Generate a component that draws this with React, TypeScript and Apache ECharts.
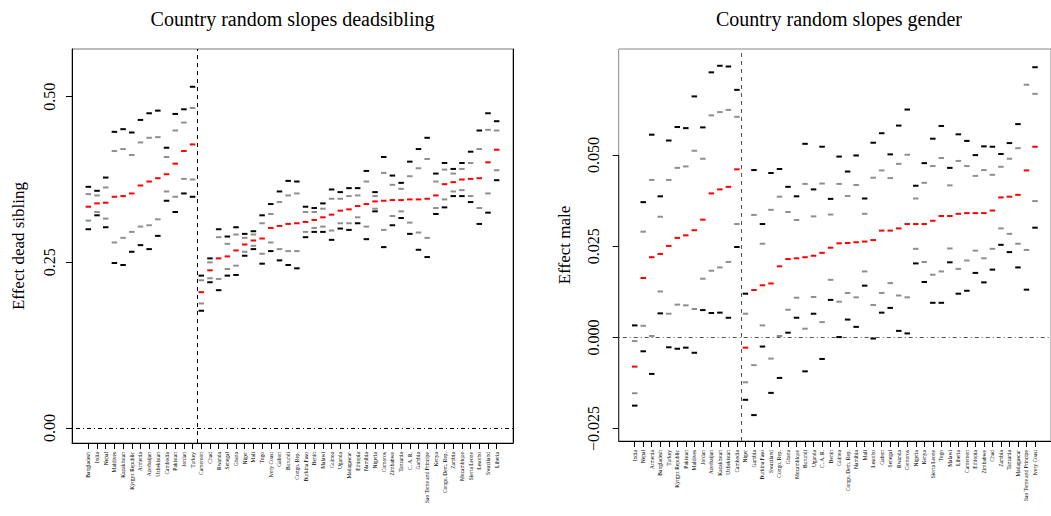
import React, { useEffect, useRef } from "react";
import * as echarts from "echarts";

// ---------- Left panel: dead sibling ----------
const deadCountries = [
  "Bangladesh", "India", "Nepal", "Maldives", "Kazakhstan", "Kyrgyz Republic", "Armenia", "Azerbaijan",
  "Uzbekistan", "Cambodia", "Pakistan", "Jordan", "Turkey", "Cameroon", "Chad", "Rwanda", "Senegal",
  "Ghana", "Niger", "Mali", "Togo", "Ivory Coast", "Gabon", "Burundi", "Congo, Rep.", "Burkina Faso",
  "Benin", "Malawi", "Guinea", "Uganda", "Madagascar", "Ethiopia", "Namibia", "Nigeria", "Comoros",
  "Zimbabwe", "Tanzania", "C. A. R.", "Gambia", "Sao Tome and Principe", "Kenya", "Congo, Dem. Rep.",
  "Zambia", "Mozambique", "Sierra Leone", "Lesotho", "Swaziland", "Liberia",
];
const deadHi95 = [
  0.364, 0.358, 0.378, 0.447, 0.451, 0.446, 0.465, 0.475, 0.479, 0.423, 0.474, 0.481, 0.515,
  0.230, 0.256, 0.300, 0.289, 0.303, 0.293, 0.297, 0.321, 0.338, 0.357, 0.373, 0.372, 0.334,
  0.332, 0.339, 0.360, 0.356, 0.362, 0.362, 0.388, 0.356, 0.409, 0.381, 0.370, 0.402, 0.421,
  0.438, 0.384, 0.400, 0.391, 0.400, 0.417, 0.449, 0.475, 0.463,
];
const deadHi80 = [
  0.353, 0.351, 0.363, 0.418, 0.421, 0.412, 0.431, 0.438, 0.439, 0.409, 0.449, 0.461, 0.483,
  0.223, 0.250, 0.288, 0.278, 0.292, 0.287, 0.292, 0.309, 0.323, 0.341, 0.351, 0.354, 0.326,
  0.326, 0.331, 0.346, 0.346, 0.350, 0.351, 0.372, 0.350, 0.385, 0.367, 0.361, 0.380, 0.392,
  0.406, 0.372, 0.390, 0.384, 0.391, 0.400, 0.421, 0.450, 0.449,
];
const deadEst = [
  0.334, 0.339, 0.340, 0.349, 0.350, 0.354, 0.366, 0.372, 0.377, 0.383, 0.399, 0.418, 0.428,
  0.205, 0.238, 0.256, 0.259, 0.268, 0.277, 0.283, 0.286, 0.302, 0.305, 0.308, 0.309, 0.311,
  0.314, 0.318, 0.322, 0.328, 0.330, 0.335, 0.338, 0.342, 0.343, 0.344, 0.344, 0.345, 0.345,
  0.346, 0.351, 0.368, 0.371, 0.375, 0.376, 0.377, 0.401, 0.420,
];
const deadLo80 = [
  0.313, 0.326, 0.316, 0.280, 0.287, 0.296, 0.304, 0.306, 0.315, 0.357, 0.349, 0.376, 0.375,
  0.188, 0.226, 0.225, 0.240, 0.245, 0.266, 0.275, 0.263, 0.280, 0.270, 0.267, 0.267, 0.296,
  0.302, 0.304, 0.298, 0.309, 0.309, 0.318, 0.304, 0.331, 0.299, 0.320, 0.327, 0.310, 0.295,
  0.287, 0.332, 0.345, 0.357, 0.359, 0.350, 0.332, 0.354, 0.389,
];
const deadLo95 = [
  0.300, 0.321, 0.303, 0.249, 0.246, 0.266, 0.276, 0.270, 0.290, 0.343, 0.326, 0.354, 0.349,
  0.177, 0.220, 0.208, 0.230, 0.231, 0.260, 0.270, 0.248, 0.267, 0.253, 0.246, 0.241, 0.288,
  0.296, 0.296, 0.284, 0.301, 0.299, 0.309, 0.285, 0.327, 0.273, 0.306, 0.317, 0.293, 0.269,
  0.258, 0.323, 0.333, 0.350, 0.350, 0.341, 0.308, 0.325, 0.374,
];
const deadTicks = [0, 0.25, 0.5];
const deadSplit = 12.5;

// ---------- Right panel: gender ----------
const genderCountries = [
  "India", "Nepal", "Armenia", "Bangladesh", "Turkey", "Kyrgyz Republic", "Pakistan", "Maldives",
  "Jordan", "Azerbaijan", "Kazakhstan", "Uzbekistan", "Cambodia", "Niger", "Gambia", "Burkina Faso",
  "Swaziland", "Congo, Rep.", "Ghana", "Mozambique", "Burundi", "Uganda", "C. A. R.", "Benin",
  "Guinea", "Congo, Dem. Rep.", "Namibia", "Mali", "Lesotho", "Gabon", "Senegal", "Rwanda", "Comoros",
  "Nigeria", "Kenya", "Sierra Leone", "Togo", "Malawi", "Liberia", "Cameroon", "Ethiopia", "Zimbabwe",
  "Chad", "Zambia", "Tanzania", "Madagascar", "Sao Tome and Principe", "Ivory Coast",
];
// Sao Tome's upper bound lies above the plotted range (clipped in the original)
const genderHi95 = [
  0.0033, 0.0371, 0.0556, 0.0387, 0.0540, 0.0577, 0.0574, 0.0661, 0.0576, 0.0727, 0.0745, 0.0743, 0.0679,
  0.0120, 0.0459, 0.0311, 0.0451, 0.0462, 0.0413, 0.0387, 0.0531, 0.0406, 0.0523, 0.0380, 0.0496,
  0.0455, 0.0499, 0.0381, 0.0534, 0.0560, 0.0502, 0.0581, 0.0625, 0.0416, 0.0478, 0.0545, 0.0580,
  0.0465, 0.0557, 0.0539, 0.0500, 0.0524, 0.0523, 0.0503, 0.0533, 0.0585, 0.0812, 0.0741,
];
const genderHi80 = [
  -0.0010, 0.0290, 0.0432, 0.0331, 0.0432, 0.0465, 0.0469, 0.0512, 0.0490, 0.0609, 0.0618, 0.0624, 0.0605,
  0.0065, 0.0336, 0.0257, 0.0350, 0.0386, 0.0344, 0.0322, 0.0421, 0.0332, 0.0422, 0.0337, 0.0421,
  0.0388, 0.0418, 0.0339, 0.0438, 0.0458, 0.0437, 0.0476, 0.0501, 0.0381, 0.0424, 0.0470, 0.0492,
  0.0417, 0.0484, 0.0470, 0.0443, 0.0459, 0.0446, 0.0468, 0.0490, 0.0519, 0.0693, 0.0668,
];
const genderEst = [
  -0.0080, 0.0163, 0.0220, 0.0229, 0.0251, 0.0273, 0.0280, 0.0294, 0.0323, 0.0395, 0.0406, 0.0413, 0.0461,
  -0.0028, 0.0130, 0.0143, 0.0148, 0.0195, 0.0215, 0.0217, 0.0220, 0.0224, 0.0232, 0.0246, 0.0258,
  0.0259, 0.0261, 0.0263, 0.0267, 0.0293, 0.0293, 0.0299, 0.0311, 0.0311, 0.0311, 0.0320, 0.0333,
  0.0333, 0.0339, 0.0341, 0.0341, 0.0341, 0.0348, 0.0384, 0.0386, 0.0391, 0.0458, 0.0523,
];
const genderLo80 = [
  -0.0153, 0.0032, 0.0004, 0.0126, 0.0065, 0.0090, 0.0088, 0.0078, 0.0161, 0.0183, 0.0192, 0.0207, 0.0311,
  -0.0123, -0.0076, 0.0033, -0.0058, 0.0004, 0.0076, 0.0109, 0.0024, 0.0111, 0.0042, 0.0158, 0.0098,
  0.0122, 0.0110, 0.0181, 0.0089, 0.0122, 0.0149, 0.0115, 0.0110, 0.0243, 0.0207, 0.0172, 0.0181,
  0.0244, 0.0188, 0.0211, 0.0238, 0.0217, 0.0243, 0.0299, 0.0284, 0.0257, 0.0240, 0.0374,
];
const genderLo95 = [
  -0.0187, -0.0038, -0.0100, 0.0066, -0.0027, -0.0031, -0.0028, -0.0042, 0.0075, 0.0067, 0.0068, 0.0054, 0.0248,
  -0.0171, -0.0213, -0.0025, -0.0152, -0.0111, 0.0013, 0.0054, -0.0093, 0.0065, -0.0059, 0.0103, 0.0001,
  0.0049, 0.0029, 0.0142, -0.0003, 0.0068, 0.0081, 0.0018, 0.0011, 0.0203, 0.0152, 0.0095, 0.0095,
  0.0206, 0.0120, 0.0128, 0.0177, 0.0151, 0.0186, 0.0254, 0.0234, 0.0192, 0.0131, 0.0301,
];
const genderTicks = [-0.025, 0, 0.025, 0.05];
const genderSplit = 12.5;

const FONT = "'Liberation Serif', 'DejaVu Serif', serif";
const X_MIN = -1.88;
const X_MAX = 48.88;

function dashSeries(axisIdx: number, vals: number[], color: string, z: number, extra: any = {}) {
  return {
    type: "scatter",
    xAxisIndex: axisIdx,
    yAxisIndex: axisIdx,
    data: vals.map((v, i) => [i, v]),
    symbol: "rect",
    symbolSize: [5.5, 2],
    itemStyle: { color, opacity: 1 },
    clip: true,
    silent: true,
    z,
    ...extra,
  };
}

function refLines(split: number, color: string) {
  return {
    markLine: {
      silent: true,
      symbol: "none",
      label: { show: false },
      animation: false,
      data: [
        { xAxis: split, lineStyle: { type: [4, 4], color, width: 1 } },
        { yAxis: 0, lineStyle: { type: [1, 3, 4, 3], color, width: 1 } },
      ],
    },
  };
}

function xAxisFor(gridIndex: number, names: string[]) {
  const idx = names.map((_, i) => i);
  return {
    type: "value",
    gridIndex,
    min: X_MIN,
    max: X_MAX,
    axisLine: { show: true, onZero: false, lineStyle: { color: "#000", width: 1 } },
    axisTick: { show: true, customValues: idx, length: 6, lineStyle: { color: "#000", width: 1 } },
    axisLabel: {
      customValues: idx,
      formatter: (v: number) => names[Math.round(v)] ?? "",
      rotate: 90,
      fontSize: 5.5,
      fontFamily: FONT,
      color: "#000",
      margin: 9,
    },
    splitLine: { show: false },
  };
}

function fmtGender(v: number) {
  if (Math.abs(v) < 1e-9) return "0.000";
  return v < 0 ? "\u2212" + Math.abs(v).toFixed(3) : v.toFixed(3);
}

export default function App() {
  const ref = useRef<HTMLDivElement>(null);
  useEffect(() => {
    const chart = echarts.init(ref.current!, null, { renderer: "svg" });
    const option: any = {
      animation: false,
      backgroundColor: "#fff",
      textStyle: { fontFamily: FONT },
      graphic: [
        {
          type: "text",
          x: 292.5,
          y: 19,
          style: {
            text: "Country random slopes deadsibling",
            fontSize: 20,
            fontFamily: FONT,
            fill: "#000",
            textAlign: "center",
            textVerticalAlign: "middle",
          },
        },
        {
          type: "text",
          x: 839,
          y: 19,
          style: {
            text: "Country random slopes gender",
            fontSize: 20,
            fontFamily: FONT,
            fill: "#000",
            textAlign: "center",
            textVerticalAlign: "middle",
          },
        },
      ],
      grid: [
        { left: 72, top: 49, width: 441, height: 394, show: true, borderColor: "#777", borderWidth: 1, containLabel: false },
        { left: 618.7, top: 49, width: 440.1, height: 392, show: true, borderColor: "#888", borderWidth: 1, containLabel: false },
      ],
      xAxis: [xAxisFor(0, deadCountries), xAxisFor(1, genderCountries)],
      yAxis: [
        {
          type: "value",
          gridIndex: 0,
          min: -0.0226,
          max: 0.572,
          axisLine: { show: true, onZero: false, lineStyle: { color: "#000", width: 1 } },
          axisTick: { show: true, customValues: deadTicks, length: 6, lineStyle: { color: "#000" } },
          axisLabel: {
            customValues: deadTicks,
            formatter: (v: number) => v.toFixed(2),
            rotate: 90,
            fontSize: 16,
            fontFamily: FONT,
            color: "#000",
            margin: 15,
          },
          splitLine: { show: false },
          name: "Effect dead sibling",
          nameLocation: "middle",
          nameGap: 45,
          nameTextStyle: { fontSize: 17, fontFamily: FONT, color: "#000" },
        },
        {
          type: "value",
          gridIndex: 1,
          min: -0.0284,
          max: 0.0791,
          axisLine: { show: false, onZero: false },
          axisTick: { show: true, customValues: genderTicks, length: 6, lineStyle: { color: "#000" } },
          axisLabel: {
            customValues: genderTicks,
            formatter: fmtGender,
            rotate: 90,
            fontSize: 16,
            fontFamily: FONT,
            color: "#000",
            margin: 17,
          },
          splitLine: { show: false },
          name: "Effect male",
          nameLocation: "middle",
          nameGap: 46,
          nameTextStyle: { fontSize: 17, fontFamily: FONT, color: "#000" },
        },
        {
          type: "value",
          gridIndex: 0,
          position: "right",
          min: -0.0226,
          max: 0.572,
          axisLine: { show: true, onZero: false, lineStyle: { color: "#000", width: 1 } },
          axisTick: { show: false },
          axisLabel: { show: false },
          splitLine: { show: false },
        },
      ],
      series: [
        dashSeries(0, deadLo95, "#000", 5),
        dashSeries(0, deadHi95, "#000", 5),
        dashSeries(0, deadLo80, "#8f8f8f", 4),
        dashSeries(0, deadHi80, "#8f8f8f", 4),
        dashSeries(0, deadEst, "#ff0000", 6, refLines(deadSplit, "#000")),
        dashSeries(1, genderLo95, "#000", 5),
        dashSeries(1, genderHi95, "#000", 5),
        dashSeries(1, genderLo80, "#8f8f8f", 4),
        dashSeries(1, genderHi80, "#8f8f8f", 4),
        dashSeries(1, genderEst, "#ff0000", 6, refLines(genderSplit, "#555")),
        {
          type: "line",
          xAxisIndex: 1,
          yAxisIndex: 1,
          data: [
            [X_MIN, -0.0284],
            [X_MIN, genderTicks[genderTicks.length - 1]],
          ],
          symbol: "none",
          clip: false,
          silent: true,
          lineStyle: { color: "#222", width: 1 },
          z: 10,
        },
      ],
    };
    chart.setOption(option);
    return () => chart.dispose();
  }, []);
  return (
    <div
      ref={ref}
      style={{ position: "fixed", left: 0, top: 0, width: 1051, height: 516, background: "#fff" }}
    />
  );
}
